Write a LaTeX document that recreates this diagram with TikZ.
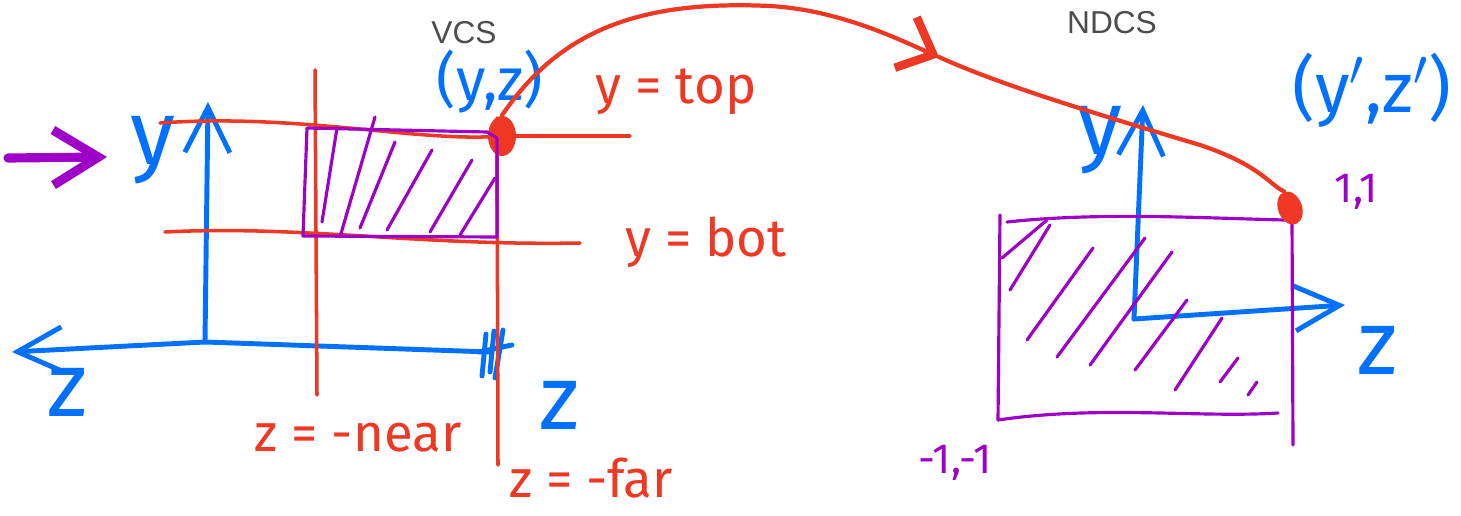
\documentclass[tikz,border=0pt]{standalone}
\usepackage{fontspec}
\setmainfont{Fira Sans}
\newfontfamily\pixfont{Liberation Sans}
\usepackage{xcolor}
\usetikzlibrary{arrows.meta,shapes.geometric}
\definecolor{penred}{RGB}{238,56,36}
\definecolor{penblue}{RGB}{0,112,255}
\definecolor{penpurple}{RGB}{158,0,200}
\tikzset{
  redpen/.style={draw=penred, line width=1pt, line cap=round, line join=round},
  bluepen/.style={draw=penblue, line width=1.4pt, line cap=round, line join=round},
  purplepen/.style={draw=penpurple, line width=0.9pt, line cap=round, line join=round},
  barb/.style={-{Straight Barb[length=4.5mm, width=4.5mm]}},
  dot/.style={ellipse, fill=penred, minimum width=2.8mm, minimum height=4mm, inner sep=0pt},
  hand/.style={font=\fontsize{15}{18}\selectfont, inner sep=1pt},
  bighand/.style={font=\fontsize{17}{20}\selectfont, inner sep=1pt},
  axislabel/.style={font=\fontsize{26}{30}\selectfont, text=penblue, inner sep=0pt},
  tag/.style={font=\pixfont\fontsize{9}{11}\selectfont, text=black!70, inner sep=0pt}
}
\begin{document}
\begin{tikzpicture}[x=0.01cm, y=-0.01cm]
  \useasboundingbox (0,0) rectangle (1461,515);

  % view coordinate system
  \coordinate (vo) at (205,342);
  \draw[bluepen, barb] (vo) -- (208,102);
  \draw[bluepen, barb] (vo) -- (12,352);
  \draw[bluepen] (vo) -- (490,352);
  \draw[bluepen] (486,334) -- (482,376) (494,331) -- (490,372) (503,330) -- (495,378) (479,352) -- (512,345);
  \node[axislabel] (vy) at (153,150) {y};
  \node[axislabel] (vz) at (67,392) {z};
  \node[axislabel] (vz2) at (559,405) {z};

  \draw[draw=penpurple, line width=2.6pt, line cap=round, -{Straight Barb[length=4.5mm, width=5.5mm]}] (8,158) -- (107,157);

  \node[dot] (vdot) at (502,136) {};
  \draw[redpen] (160,123) .. controls (300,113) and (420,143) .. (vdot.center) -- (630,136);
  \draw[redpen] (165,232) .. controls (300,225) and (420,246) .. (580,243);
  \draw[redpen] (315,70) -- (317,395);
  \draw[redpen] (497,118) -- (498,465);

  \draw[purplepen] (307,128) -- (487,132) -- (497,138) -- (497,237) -- (303,236) -- cycle;
  \foreach \xa/\ya/\xb/\yb in {322/222/337/128, 340/237/375/117, 360/228/395/142,
      387/230/432/150, 430/232/472/160, 460/235/495/178}
    \draw[purplepen] (\xa,\ya) -- (\xb,\yb);

  \node[tag] (vcs) at (464,33) {VCS};
  \node[bighand, text=penblue] (vpt) at (490,82) {(y,z)};
  \node[hand, text=penred] (top) at (676,92) {y = top};
  \node[hand, text=penred] (bot) at (706,242) {y = bot};
  \node[hand, text=penred] (near) at (358,438) {z = -near};
  \node[hand, text=penred] (far) at (591,478) {z = -far};

  % normalized device coordinates
  \coordinate (no) at (1134,319);
  \draw[bluepen, barb] (no) -- (1143,105);
  \draw[bluepen, barb] (no) -- (1345,305);
  \node[axislabel] (ny) at (1100,140) {y};
  \node[axislabel] (nz) at (1377,350) {z};

  \draw[purplepen] (1000,215) -- (998,420) .. controls (1100,405) and (1200,418) .. (1278,413);
  \draw[purplepen] (1007,222) .. controls (1100,212) and (1200,218) .. (1285,220);
  \draw[purplepen] (1292,222) -- (1293,445);
  \foreach \xa/\ya/\xb/\yb in {1002/258/1047/220, 1010/290/1050/225, 1027/340/1093/248,
      1057/357/1145/238, 1090/365/1172/252, 1135/370/1187/300, 1175/390/1222/318,
      1220/382/1238/358, 1248/395/1257/382}
    \draw[purplepen] (\xa,\ya) -- (\xb,\yb);

  \node[dot, rotate=20, minimum width=2.4mm, minimum height=3.4mm] (ndot) at (1290,208) {};
  \node[tag] (ndcs) at (1112,23) {NDCS};
  \node[bighand, text=penblue, font=\fontsize{20}{24}\selectfont] (npt) at (1372,90) {(y$'$,z$'$)};
  \node[hand, text=penpurple, font=\fontsize{12}{14}\selectfont] (one) at (1356,192) {1,1};
  \node[hand, text=penpurple, font=\fontsize{12}{14}\selectfont] (mone) at (955,463) {-1,-1};

  % mapping
  \coordinate (chev) at (939,57);
  \draw[redpen, line width=1.2pt, -{Straight Barb[length=3mm, width=5.5mm, line width=2.4pt]}]
    (vdot.north) .. controls (560,30) and (640,0) .. (770,6) .. controls (840,10) and (900,40) .. (chev);
  \draw[redpen, line width=1.2pt]
    (chev) .. controls (1000,85) and (1100,115) .. (1200,145) .. controls (1260,165) and (1270,185) .. (ndot.north);
\end{tikzpicture}
\end{document}
